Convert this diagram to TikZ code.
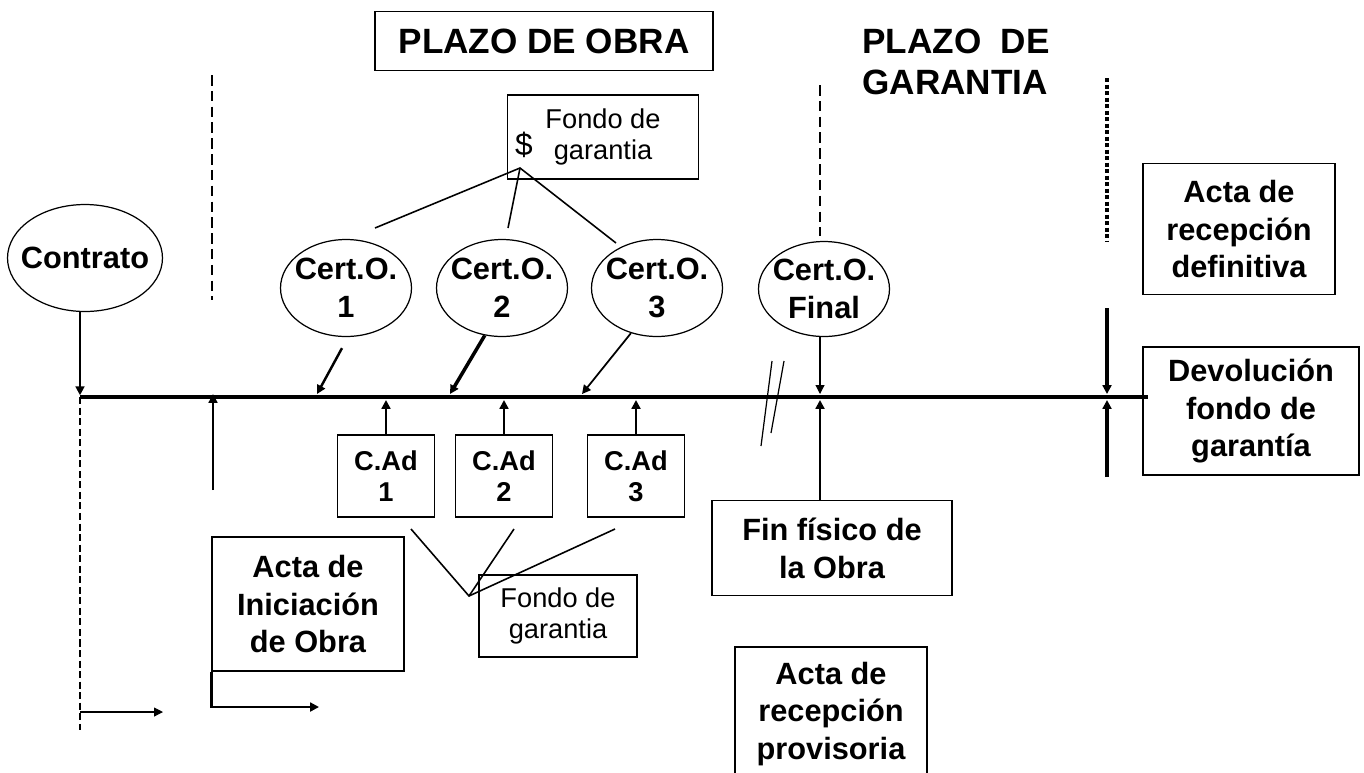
\documentclass[tikz,border=0pt]{standalone}
\usepackage{fontspec}
\setmainfont{Liberation Sans}
\usetikzlibrary{shapes.geometric,arrows.meta}

\begin{document}
\begin{tikzpicture}[x=0.02cm, y=-0.02cm, >={Triangle[length=5pt,width=5pt]},
        caja/.style={draw, line width=0.9pt, inner sep=0pt, align=center, font=\fontsize{17.5}{21.5}\selectfont\bfseries},
        cert/.style={draw, ellipse, line width=0.7pt, inner ysep=0pt, inner xsep=-3pt, align=center, font=\fontsize{17.5}{21.5}\selectfont\bfseries},
        fondo/.style={draw, line width=0.9pt, inner sep=0pt, align=center, font=\fontsize{15.5}{17.6}\selectfont},
        cad/.style={caja, font=\fontsize{15.5}{17.6}\selectfont\bfseries},
        titulo/.style={font=\fontsize{20}{23.2}\selectfont\bfseries}]
        \useasboundingbox (0,0) rectangle (1364,772);
        \clip (0,0) rectangle (1364,772);

        % titulos
        \node [titulo, draw, line width=0.9pt, minimum width=6.76cm, minimum height=1.18cm] (plazoObra) at (544,41) {PLAZO DE OBRA};
        \node [titulo, align=left, anchor=west, inner sep=0pt] (plazoGar) at (862,62) {PLAZO\ \ DE\\GARANTIA};

        % certificados de obra
        \node [fondo, minimum width=3.82cm, minimum height=1.68cm] (fondoSup) at (603,137) {Fondo de\\garantia};
        \node [font=\fontsize{18}{20}\selectfont, inner sep=0pt] (dolar) at (524,145) {\$};
        \node [cert, inner xsep=-5.4pt, minimum width=3.1cm, minimum height=2.14cm] (contrato) at (85,258) {Contrato};
        \node [cert, minimum width=2.62cm, minimum height=1.94cm] (certA) at (346,288) {Cert.O.\\1};
        \node [cert, minimum width=2.62cm, minimum height=1.94cm] (certB) at (502,288) {Cert.O.\\2};
        \node [cert, minimum width=2.62cm, minimum height=1.94cm] (certC) at (657,288) {Cert.O.\\3};
        \node [cert, minimum width=2.62cm, minimum height=1.9cm] (certFin) at (824,289) {Cert.O.\\Final};

        % certificados de adicionales
        \node [cad, minimum width=1.94cm, minimum height=1.64cm] (cadA) at (386,476) {C.Ad\\1};
        \node [cad, minimum width=1.94cm, minimum height=1.64cm] (cadB) at (504,476) {C.Ad\\2};
        \node [cad, minimum width=1.94cm, minimum height=1.64cm] (cadC) at (636,476) {C.Ad\\3};
        \node [fondo, minimum width=3.16cm, minimum height=1.64cm] (fondoInf) at (558,616) {Fondo de\\garantia};

        % actas
        \node [caja, minimum width=3.84cm, minimum height=2.68cm] (actaIni) at (308,604) {Acta de\\Iniciación\\de Obra};
        \node [caja, minimum width=4.8cm, minimum height=1.9cm] (finObra) at (832,548) {Fin físico de\\la Obra};
        \node [caja, minimum width=3.84cm, minimum height=2.68cm] (actaProv) at (831,714) {Acta de\\recepción\\provisoria};
        \node [caja, minimum width=3.84cm, minimum height=2.62cm] (actaDef) at (1239,229) {Acta de\\recepción\\definitiva};
        \node [caja, minimum width=4.32cm, minimum height=2.56cm] (devol) at (1251,411) {Devolución\\fondo de\\garantía};

        % eje de tiempo
        \coordinate (t0) at (80,397);
        \coordinate (t1) at (1148,397);
        \coordinate (tb) at (0,400);
        \draw [line width=2.8pt] (t0) -- (t1);

        % contrato e inicio
        \coordinate (d0) at (80,730);
        \coordinate (p0) at (80,712);
        \coordinate (p1) at (163,712);
        \coordinate (ini0) at (213,490);
        \coordinate (ini1) at (213,394);
        \coordinate (b1) at (319,707);
        \draw [->, line width=1.1pt] (t0 |- contrato.south) -- ([yshift=1pt]t0);
        \draw [line width=1.4pt, dash pattern=on 4pt off 2pt] (t0) -- (d0);
        \draw [->, line width=0.6pt] (p0) -- (p1);
        \draw [->, line width=1.6pt] (ini0) -- (ini1);
        \draw [->, line width=1.6pt] (actaIni.south west) |- (b1);

        % lineas de trazos
        \draw [line width=0.6pt, dash pattern=on 6pt off 3pt] (212,75) -- (212,300);
        \draw [line width=0.6pt, dash pattern=on 6pt off 3pt] (820,85) -- (820,236);
        \draw [line width=1.8pt, dash pattern=on 2.5pt off 1.2pt] (1107,78) -- (1107,242);

        % certificados al eje
        \coordinate (a1) at (317,394);
        \coordinate (a2) at (450,394);
        \coordinate (a3) at (582,394);
        \draw [->, line width=1.4pt] ([shift={(-4,11)}]certA.south) -- (a1);
        \draw [->, line width=2pt] (certB.-110) -- (a2);
        \draw [->, line width=1pt] (certC.-120) -- (a3);
        \draw [->, line width=1.6pt] (cadA.north) -- (cadA.north |- tb);
        \draw [->, line width=1.6pt] (cadB.north) -- (cadB.north |- tb);
        \draw [->, line width=1.6pt] (cadC.north) -- (cadC.north |- tb);

        % fondo de garantia
        \coordinate (fs) at (520,168);
        \coordinate (fsA) at (375,228);
        \coordinate (fsB) at (508,228);
        \coordinate (fsC) at (616,243);
        \draw [line width=0.9pt] (fsA) -- (fs) -- (fsC);
        \draw [line width=0.9pt] (fs) -- (fsB);
        \coordinate (fi) at (469,596);
        \coordinate (fiA) at (411,529);
        \coordinate (fiB) at (514,529);
        \coordinate (fiC) at (615,529);
        \draw [line width=0.9pt] (fiA) -- (fi) -- (fiC);
        \draw [line width=0.9pt] (fi) -- (fiB);

        % fin de obra
        \coordinate (f1) at (820,394);
        \coordinate (f2) at (820,400);
        \draw [line width=0.7pt] (772,361) -- (761,446);
        \draw [line width=0.7pt] (784,361) -- (771,433);
        \draw [->, line width=0.6pt] (f1 |- certFin.south) -- (f1);
        \draw [->, line width=1.6pt] (f2 |- finObra.north) -- (f2);

        % devolucion
        \coordinate (r0) at (1107,308);
        \coordinate (r1) at (1107,477);
        \coordinate (r2) at (1107,394);
        \coordinate (r3) at (1107,400);
        \draw [->, line width=1.8pt] (r0) -- (r2);
        \draw [->, line width=1.8pt] (r1) -- (r3);
    \end{tikzpicture}
\end{document}
